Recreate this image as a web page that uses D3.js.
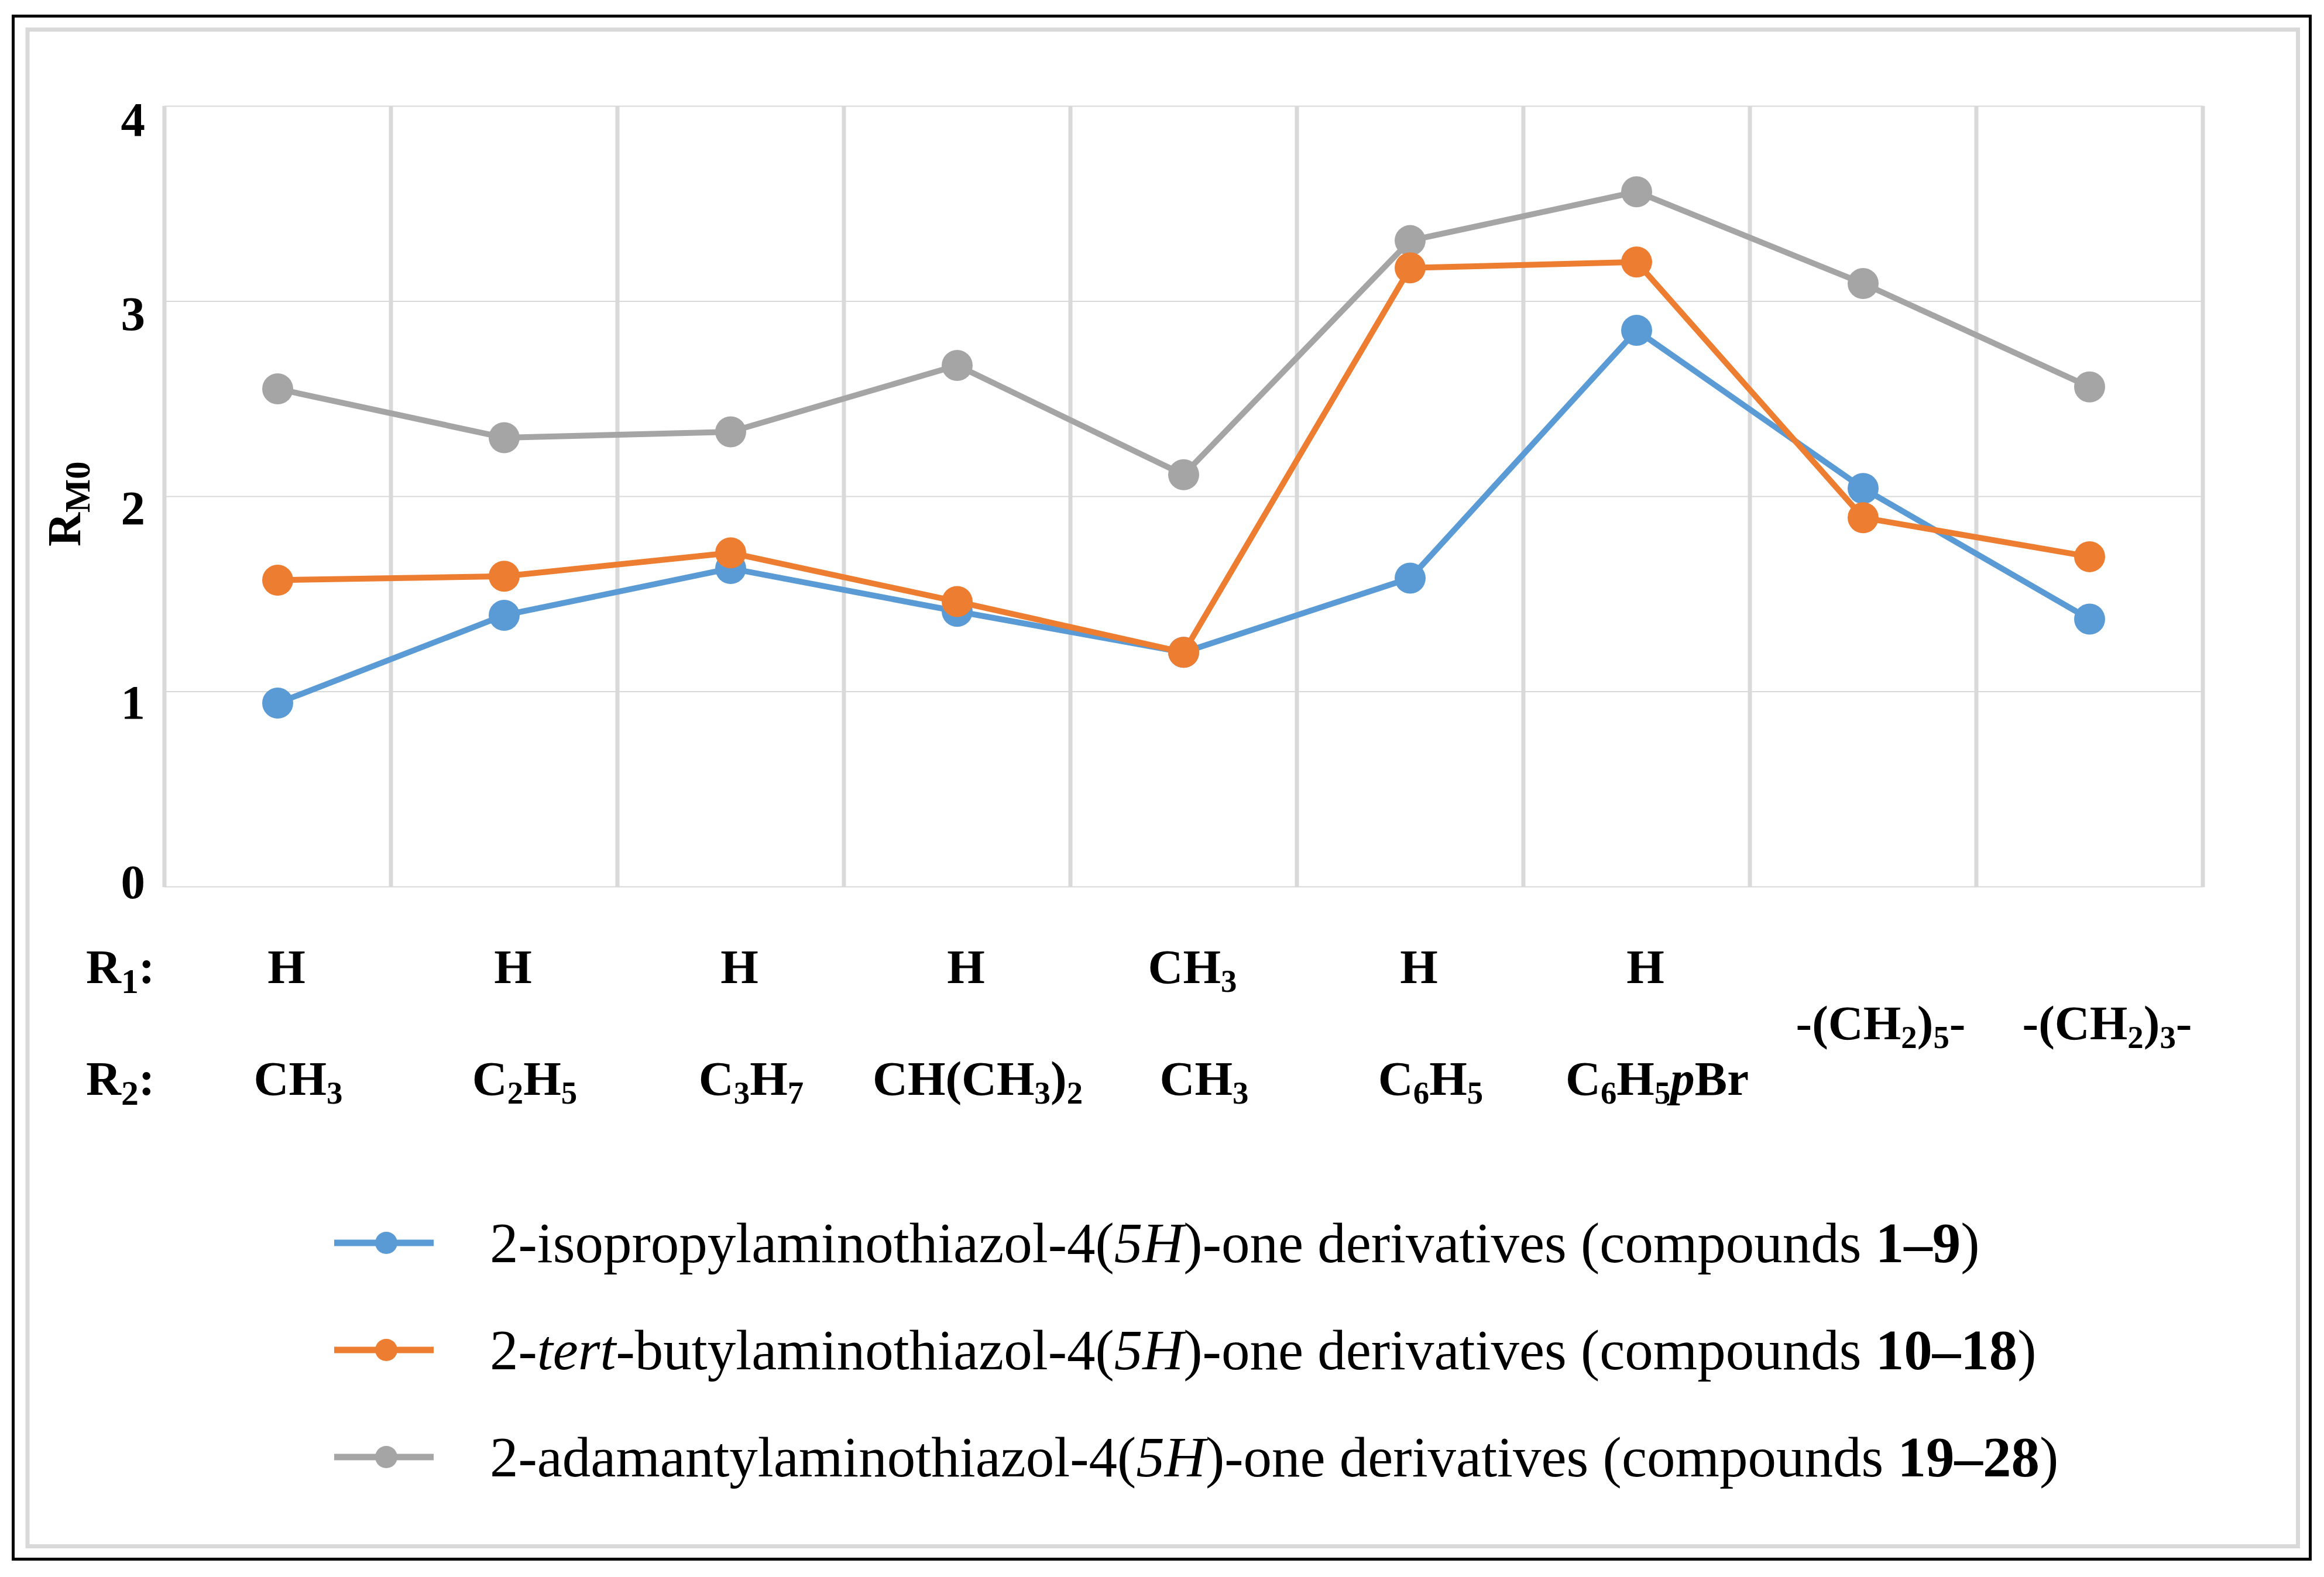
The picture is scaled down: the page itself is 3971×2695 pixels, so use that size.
<!DOCTYPE html>
<html lang="en">
<head>
<meta charset="UTF-8">
<title>RM0 of thiazol-4(5H)-one derivatives</title>
<script src="https://d3js.org/d3.v7.min.js"></script>
<style>
  html, body { margin: 0; padding: 0; background: #fff; }
  svg { display: block; }
  text { font-family: "Liberation Serif", "Times New Roman", serif; fill: #000; }
</style>
</head>
<body>
<div id="chart"></div>
<script>
// ---- data ----
const categories = ["1", "2", "3", "4", "5", "6", "7", "8", "9"];
// markup: _x = subscript char, {..} = italic, [..] = bold
const r1Labels = ["H", "H", "H", "H", "CH_3", "H", "H", "", ""];
const r2Labels = ["CH_3", "C_2H_5", "C_3H_7", "CH(CH_3)_2", "CH_3", "C_6H_5", "C_6H_5{p}Br", "", ""];
const ringLabels = ["", "", "", "", "", "", "", "-(CH_2)_5-", "-(CH_2)_3-"];
const isopropyl = [0.94, 1.39, 1.63, 1.41, 1.20, 1.58, 2.85, 2.04, 1.37];
const tertButyl = [1.57, 1.59, 1.71, 1.46, 1.20, 3.17, 3.20, 1.89, 1.69];
const adamantyl = [2.55, 2.30, 2.33, 2.67, 2.11, 3.31, 3.56, 3.09, 2.56];
const yTicks = [0, 1, 2, 3, 4];
const seriesNames = [
  "2-isopropylaminothiazol-4({5H})-one derivatives (compounds [1–9])",
  "2-{tert}-butylaminothiazol-4({5H})-one derivatives (compounds [10–18])",
  "2-adamantylaminothiazol-4({5H})-one derivatives (compounds [19–28])"
];
const seriesColors = ["#5B9BD5", "#ED7D31", "#A5A5A5"];

const series = [isopropyl, tertButyl, adamantyl].map((values, i) => ({
  name: seriesNames[i], color: seriesColors[i], values
}));

// ---- layout ----
const W = 3971, H = 2695;
const plot = { left: 281, right: 3764, top: 181, bottom: 1515 };

const svg = d3.select("#chart").append("svg")
  .attr("width", W).attr("height", H);

// frames
svg.append("rect")
  .attr("x", 22.5).attr("y", 27.5)
  .attr("width", 3947.5 - 22.5).attr("height", 2664.5 - 27.5)
  .attr("fill", "none").attr("stroke", "#000").attr("stroke-width", 5);
svg.append("rect")
  .attr("x", 47).attr("y", 50.5)
  .attr("width", 3926.5 - 47).attr("height", 2642.5 - 50.5)
  .attr("fill", "none").attr("stroke", "#D9D9D9").attr("stroke-width", 7);

const x = d3.scaleBand().domain(categories).range([plot.left, plot.right]);
const y = d3.scaleLinear().domain([0, 4]).range([plot.bottom, plot.top]);
// tick labels sit a little off their gridlines in the original
const yLab = d3.scaleLinear().domain([0, 1, 4]).range([1507, 1200, 203.5]);

// horizontal gridlines
svg.append("g")
  .attr("transform", `translate(${plot.left},0)`)
  .call(d3.axisLeft(y).tickValues(yTicks).tickSize(-(plot.right - plot.left)).tickFormat(""))
  .call(g => g.select(".domain").remove())
  .call(g => g.selectAll(".tick line").attr("stroke", "#D9D9D9").attr("stroke-width", 2));

// vertical gridlines at category boundaries
const bounds = d3.range(categories.length + 1).map(i => plot.left + i * x.step());
svg.append("g").selectAll("line").data(bounds).join("line")
  .attr("x1", d => d).attr("x2", d => d)
  .attr("y1", plot.top).attr("y2", plot.bottom + 1)
  .attr("stroke", "#D9D9D9").attr("stroke-width", 7);

// y tick labels
svg.append("g").selectAll("text").data(yTicks).join("text")
  .attr("x", 248).attr("y", d => yLab(d))
  .attr("dy", "0.34em")
  .attr("text-anchor", "end")
  .attr("font-size", 83).attr("font-weight", "bold")
  .text(d => d);

// rich text helper
function rich(sel, str, size, subRatio, drop) {
  const re = /_(.)|\{([^}]*)\}|\[([^\]]*)\]|([^_{\[]+)/g;
  let m, low = false;
  while ((m = re.exec(str)) !== null) {
    const ts = sel.append("tspan");
    if (m[1] !== undefined) {
      ts.text(m[1]).attr("font-size", size * subRatio);
      if (!low) { ts.attr("dy", drop); low = true; }
      continue;
    }
    if (low) { ts.attr("dy", -drop); low = false; }
    if (m[2] !== undefined) ts.text(m[2]).attr("font-style", "italic");
    else if (m[3] !== undefined) ts.text(m[3]).attr("font-weight", "bold");
    else ts.text(m[4]);
  }
}

// y axis title R_M0
const yTitle = svg.append("text")
  .attr("transform", "translate(137,861) rotate(-90)")
  .attr("text-anchor", "middle")
  .attr("font-size", 80).attr("font-weight", "bold");
rich(yTitle, "R_M_0", 80, 0.76, 16);

// substituent rows
const rows = [
  { key: "R_1:", labels: r1Labels, y: 1680, shift: 15 },
  { key: "", labels: ringLabels, y: 1776, shift: 30 },
  { key: "R_2:", labels: r2Labels, y: 1871, shift: 35 }
];
rows.forEach(r => {
  if (r.key) {
    const t = svg.append("text").attr("x", 147).attr("y", r.y)
      .attr("font-size", 83).attr("font-weight", "bold");
    rich(t, r.key, 83, 0.72, 17);
  }
  r.labels.forEach((lab, i) => {
    if (!lab) return;
    const t = svg.append("text")
      .attr("x", x(categories[i]) + x.bandwidth() / 2 + r.shift)
      .attr("y", r.y)
      .attr("text-anchor", "middle")
      .attr("font-size", 83).attr("font-weight", "bold");
    rich(t, lab, 83, 0.66, 15);
  });
});

// series: adamantyl at the back, tert-butyl on top
const line = d3.line()
  .x((d, i) => x(categories[i]) + x.bandwidth() / 2)
  .y(d => y(d));
[2, 0, 1].forEach(k => {
  const s = series[k];
  const g = svg.append("g");
  g.append("path").datum(s.values)
    .attr("d", line)
    .attr("fill", "none").attr("stroke", s.color)
    .attr("stroke-width", 10).attr("stroke-linejoin", "round");
  g.selectAll("circle").data(s.values).join("circle")
    .attr("cx", (d, i) => x(categories[i]) + x.bandwidth() / 2)
    .attr("cy", d => y(d))
    .attr("r", 26.5)
    .attr("fill", s.color);
});

// legend
const legY = d3.scalePoint().domain(d3.range(series.length)).range([2124, 2490]);
const leg = svg.append("g").selectAll("g").data(series).join("g")
  .attr("transform", (d, i) => `translate(0,${legY(i)})`);
leg.append("line")
  .attr("x1", 571).attr("x2", 741).attr("y1", 0).attr("y2", 0)
  .attr("stroke", d => d.color).attr("stroke-width", 11);
leg.append("circle")
  .attr("cx", 660).attr("cy", 0).attr("r", 19)
  .attr("fill", d => d.color);
leg.append("text")
  .attr("x", 837).attr("y", 33)
  .attr("font-size", 97)
  .each(function (d) { rich(d3.select(this), d.name, 97, 0.7, 15); });
</script>
</body>
</html>
